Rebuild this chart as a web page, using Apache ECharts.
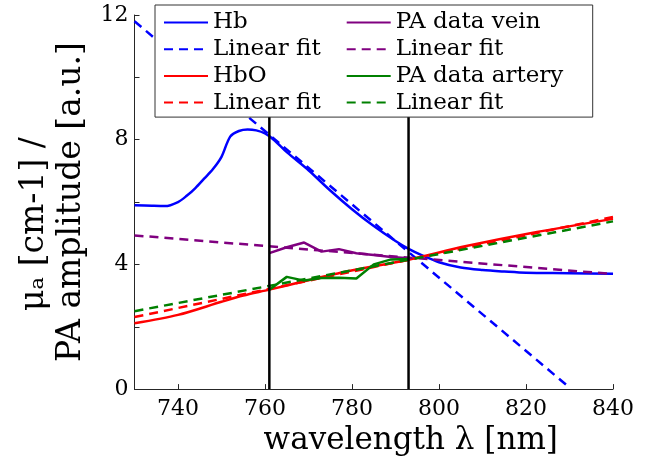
<!DOCTYPE html>
<html>
<head>
<meta charset="utf-8">
<script src="https://cdn.jsdelivr.net/npm/echarts@6/dist/echarts.min.js"></script>
<style>
  html, body { margin: 0; padding: 0; background: #fff; }
  #main { width: 647px; height: 461px; }
</style>
</head>
<body>
<div id="main"></div>
<script>
// absorption of Hb / HbO (solid curves)
var hbWl  = [730, 734, 737, 740, 742, 744, 746, 748, 750, 752, 754, 756, 758, 760, 762, 765, 770, 775, 780, 785, 790, 793, 796, 800, 805, 810, 815, 820, 830, 840];
var hbVal = [5.90, 5.88, 5.87, 6.0, 6.2, 6.45, 6.75, 7.05, 7.45, 8.1, 8.28, 8.33, 8.3, 8.2, 8.0, 7.6, 7.02, 6.37, 5.77, 5.23, 4.75, 4.5, 4.3, 4.07, 3.9, 3.82, 3.77, 3.73, 3.72, 3.70];
var hboWl  = [730, 740, 750, 755, 761, 769, 779, 793, 806, 821, 840];
var hboVal = [2.11, 2.38, 2.80, 3.0, 3.19, 3.46, 3.78, 4.15, 4.58, 5.0, 5.46];

// PA measurements
var paWl     = [761, 765, 769, 773, 777, 781, 785, 789, 793];
var veinVal  = [4.36, 4.55, 4.70, 4.41, 4.49, 4.36, 4.30, 4.24, 4.20];
var arteryVal = [3.19, 3.60, 3.48, 3.56, 3.57, 3.55, 4.00, 4.16, 4.17];

// linear fits (end points)
var hbFit     = [[730, 11.8], [830, 0.05]];
var hboFit    = [[730, 2.31], [840, 5.52]];
var veinFit   = [[730, 4.93], [840, 3.69]];
var arteryFit = [[730, 2.50], [840, 5.38]];

// marked wavelengths
var markWl = [761, 793];

var xTicks = [740, 760, 780, 800, 820, 840];
var yLabels = [0, 4, 8, 12];

function pairs(xs, ys) {
    var out = [];
    for (var i = 0; i < xs.length; i++) out.push([xs[i], ys[i]]);
    return out;
}

var legendText = {
    'Hb': 'Hb', 'fitHb': 'Linear fit', 'HbO': 'HbO', 'fitHbO': 'Linear fit',
    'PA data vein': 'PA data vein', 'fitVein': 'Linear fit',
    'PA data artery': 'PA data artery', 'fitArtery': 'Linear fit'
};

var FONT = 'DejaVu Serif';
var myChart = echarts.init(document.getElementById('main'));

function line(name, data, color, dashed) {
    return {
        name: name,
        type: 'line',
        data: data,
        symbol: 'none',
        smooth: false,
        animation: false,
        lineStyle: { color: color, width: 2.5, type: dashed ? [9, 6] : 'solid' },
        itemStyle: { color: color }
    };
}

var series = [
    line('Hb', pairs(hbWl, hbVal), '#0000ff', false),
    line('fitHb', hbFit, '#0000ff', true),
    line('HbO', pairs(hboWl, hboVal), '#ff0000', false),
    line('fitHbO', hboFit, '#ff0000', true),
    line('PA data vein', pairs(paWl, veinVal), '#800080', false),
    line('fitVein', veinFit, '#800080', true),
    line('PA data artery', pairs(paWl, arteryVal), '#008000', false),
    line('fitArtery', arteryFit, '#008000', true)
];
series[0].smooth = 0.3;
series[2].smooth = 0.3;

// vertical black lines at the two PA wavelengths
markWl.forEach(function (w) {
    series.push({
        type: 'line',
        data: [[w, 0], [w, 12]],
        symbol: 'none',
        silent: true,
        animation: false,
        lineStyle: { color: '#000', width: 2.5 }
    });
});

var col1 = ['Hb', 'fitHb', 'HbO', 'fitHbO'];
var col2 = ['PA data vein', 'fitVein', 'PA data artery', 'fitArtery'];
var legendData = col1.map(function (n) {
    return { name: n, textStyle: { width: 129 } };
}).concat(col2.map(function (n) {
    return { name: n, textStyle: { width: 188 } };
}));

var option = {
    backgroundColor: '#fff',
    animation: false,
    grid: { left: 134.5, right: 34, top: 15, bottom: 69, containLabel: false },
    legend: {
        data: legendData,
        orient: 'vertical',
        left: 155,
        top: 5,
        height: 106,
        padding: [6, 9, 3, 8],
        itemGap: 3.7,
        itemWidth: 44,
        itemHeight: 20,
        z: 10,
        backgroundColor: '#fff',
        borderColor: '#333',
        borderWidth: 1,
        borderRadius: 0,
        selectedMode: false,
        itemStyle: { opacity: 0 },
        formatter: function (name) { return legendText[name]; },
        textStyle: { fontFamily: FONT, fontSize: 23, color: '#000', lineHeight: 22 }
    },
    xAxis: {
        type: 'value',
        min: 730,
        max: 840,
        interval: 10,
        name: 'wavelength λ [nm]',
        nameLocation: 'middle',
        nameGap: 26,
        nameTextStyle: { fontFamily: FONT, fontSize: 31, color: '#000', padding: [0, 0, 0, 74] },
        axisLine: { lineStyle: { color: '#262626', width: 1 } },
        axisTick: { inside: true, length: 5, customValues: xTicks, lineStyle: { color: '#262626' } },
        axisLabel: { customValues: xTicks, margin: 9, fontFamily: FONT, fontSize: 22, color: '#000' },
        splitLine: { show: false }
    },
    yAxis: {
        type: 'value',
        min: 0,
        max: 12,
        interval: 2,
        name: '{a|μₐ [cm-1] /}\n{b|PA amplitude [a.u.]}',
        nameLocation: 'middle',
        nameRotate: 90,
        nameGap: 45,
        nameTextStyle: {
            fontFamily: FONT, fontSize: 33, color: '#000', lineHeight: 37,
            rich: {
                a: { fontFamily: FONT, fontSize: 33, color: '#000', lineHeight: 37, padding: [0, 44, 0, 0] },
                b: { fontFamily: FONT, fontSize: 33, color: '#000', lineHeight: 37 }
            }
        },
        axisLine: { show: true, lineStyle: { color: '#262626', width: 1 } },
        axisTick: { show: true, inside: true, length: 5, lineStyle: { color: '#262626' } },
        axisLabel: { customValues: yLabels, margin: 6, fontFamily: FONT, fontSize: 22, color: '#000' },
        splitLine: { show: false }
    },
    series: series
};

myChart.setOption(option);
</script>
</body>
</html>
